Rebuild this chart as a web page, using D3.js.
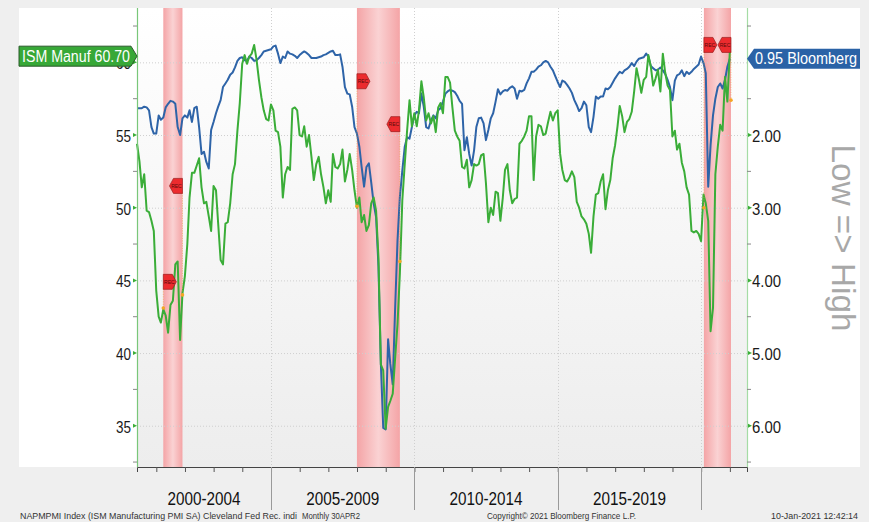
<!DOCTYPE html>
<html>
<head>
<meta charset="utf-8">
<script src="https://cdn.jsdelivr.net/npm/d3@7"></script>
<style>
  body { margin: 0; background: #efefef; }
  svg { display: block; font-family: "Liberation Sans", Arial, sans-serif; }
</style>
</head>
<body>
<svg id="chart" width="869" height="522"></svg>
<script>
// ISM Manufacturing PMI, monthly, Apr 2000 .. Dec 2020 (left axis)
const ismManuf = [
  54.4, 53.2, 51.4, 52.3, 49.8, 49.7, 49.1, 48.4, 44.3, 42.5, 42.1, 43.0,
  42.6, 41.4, 43.3, 43.6, 46.1, 46.3, 40.9, 44.1, 45.3, 47.5, 50.7, 52.4,
  52.4, 52.9, 53.4, 51.4, 50.3, 50.4, 49.4, 48.4, 51.5, 51.2, 48.9, 46.4,
  46.1, 48.9, 49.0, 50.3, 52.3, 53.0, 55.3, 57.2, 59.9, 60.5, 59.9, 60.4,
  60.6, 61.2, 60.2, 58.8, 57.6, 56.7, 56.1, 56.0, 57.1, 56.7, 55.3, 55.2,
  54.2, 50.7, 52.3, 52.8, 52.6, 56.8, 56.9, 56.7, 55.0, 54.9, 55.6, 54.2,
  55.0, 53.5, 51.9, 53.0, 53.5, 52.3, 51.4, 50.3, 51.2, 50.4, 53.7, 52.8,
  52.7, 53.0, 54.0, 51.8, 52.6, 53.7, 52.6, 51.2, 50.0, 50.7, 49.0, 49.5,
  48.4, 48.8, 50.3, 50.7, 49.8, 46.6, 39.2, 38.8, 34.8, 36.3, 36.7, 37.2,
  39.6, 42.0, 45.5, 50.5, 53.0, 55.3, 57.4, 55.6, 56.5, 55.6, 56.7, 58.7,
  57.6, 56.0, 56.5, 55.8, 56.3, 55.2, 56.9, 57.2, 56.5, 59.0, 59.0, 58.6,
  56.9, 55.3, 54.9, 54.6, 52.8, 52.7, 53.3, 51.4, 51.9, 53.0, 52.9, 53.0,
  53.6, 53.7, 51.7, 49.0, 50.0, 49.5, 51.1, 51.0, 49.1, 50.7, 52.6, 53.0,
  51.2, 50.3, 50.6, 50.7, 54.4, 54.6, 54.9, 55.3, 56.3, 56.3, 51.9, 54.9,
  55.7, 55.6, 55.0, 55.1, 55.9, 56.6, 56.0, 56.5, 56.7, 53.7, 52.6, 51.9,
  51.8, 52.1, 52.5, 52.1, 50.4, 50.0, 49.4, 49.2, 48.9, 48.2, 46.9, 49.4,
  50.9, 51.0, 51.8, 52.3, 49.9, 51.2, 51.9, 53.4, 54.3, 55.6, 57.0, 56.3,
  55.2, 55.9, 56.1, 56.6, 58.0, 59.6, 58.8, 57.9, 58.8, 59.0, 60.5, 59.7,
  58.4, 58.9, 59.5, 58.0, 60.6, 59.3, 58.4, 58.1, 54.9, 55.3, 54.0, 54.4,
  53.1, 52.5, 51.4, 50.9, 48.4, 48.3, 48.4, 48.2, 47.7, 50.9, 50.3, 49.1,
  41.5, 43.1, 52.3, 54.2, 55.7, 55.3, 59.0, 57.3, 60.7
];

// Cleveland Fed recession indicator (Bloomberg), same months (right axis, inverted)
const clevelandRec = [
  1.63, 1.63, 1.63, 1.61, 1.62, 1.66, 1.89, 1.98, 1.98, 1.73, 1.79, 1.76,
  1.62, 1.57, 1.53, 1.54, 1.57, 1.89, 2.00, 1.77, 1.73, 1.76, 1.66, 1.82,
  1.63, 1.61, 1.89, 2.26, 2.23, 2.37, 2.46, 1.93, 1.82, 1.70, 1.61, 1.52,
  1.34, 1.29, 1.24, 1.17, 1.14, 1.07, 0.98, 0.94, 0.93, 0.97, 0.98, 0.92,
  0.94, 0.98, 0.97, 0.94, 0.90, 0.85, 0.84, 0.83, 0.82, 0.78, 0.77, 0.88,
  1.01, 0.92, 0.94, 0.85, 0.88, 0.89, 0.91, 0.94, 0.90, 0.87, 0.85, 0.87,
  0.90, 0.94, 0.94, 0.94, 0.93, 0.92, 0.90, 0.89, 0.87, 0.85, 0.84, 0.90,
  0.90, 0.89, 1.06, 1.34, 1.43, 1.44, 1.61, 1.89, 1.98, 2.16, 2.44, 2.71,
  2.44, 2.39, 2.65, 2.94, 3.13, 3.80, 5.15, 6.03, 6.05, 4.81, 5.15, 5.43,
  4.40, 3.45, 2.85, 2.49, 2.16, 2.03, 2.05, 1.89, 1.73, 1.68, 1.70, 1.43,
  1.61, 1.89, 1.91, 1.80, 1.73, 1.77, 1.66, 1.63, 1.54, 1.43, 1.40, 1.38,
  1.39, 1.41, 1.46, 1.53, 1.57, 2.21, 2.03, 2.26, 2.42, 2.21, 1.89, 1.77,
  1.76, 1.84, 2.07, 1.93, 1.77, 1.70, 1.54, 1.37, 1.44, 1.40, 1.38, 1.39,
  1.35, 1.33, 1.36, 1.50, 1.39, 1.40, 1.38, 1.29, 1.22, 1.13, 1.13, 1.10,
  1.06, 1.04, 1.00, 0.98, 1.00, 1.06, 1.11, 1.19, 1.27, 1.34, 1.25, 1.27,
  1.31, 1.36, 1.42, 1.52, 1.59, 1.67, 1.63, 1.54, 1.59, 1.89, 1.96, 1.75,
  1.47, 1.50, 1.47, 1.47, 1.36, 1.37, 1.34, 1.28, 1.22, 1.17, 1.13, 1.15,
  1.11, 1.09, 1.06, 1.01, 1.05, 0.99, 0.95, 0.94, 0.93, 0.88, 0.92, 1.05,
  1.08, 1.11, 1.10, 1.07, 1.11, 1.16, 1.24, 1.34, 1.52, 1.25, 1.18, 1.16,
  1.11, 1.19, 1.13, 1.16, 1.13, 1.09, 1.06, 1.03, 0.92, 1.01, 1.15, 2.71,
  2.14, 1.73, 1.50, 1.34, 1.29, 1.36, 1.24, 1.06, 0.95
];

// first month of both series (month index 3 = April)
const firstYear = 2000, firstMonth = 3;

// shaded recessions [start, end]
const recessions = [
  ["2001-03-31", "2001-11-30"],
  ["2007-12-31", "2009-06-30"],
  ["2020-02-05", "2021-01-15"]
];

// "REC" event tags: date, level of the tag, level of the dot on the ISM line
const recTags = [
  { date: "2001-03-31", tag: 44.9, dot: 43.1, dir: "right" },
  { date: "2001-11-30", tag: 51.5, dot: 44.0, dir: "left" },
  { date: "2007-12-31", tag: 58.7, dot: 50.1, dir: "right" },
  { date: "2009-06-30", tag: 55.75, dot: 46.3, dir: "left" },
  { date: "2020-02-05", tag: 61.2, dot: 50.0, dir: "right" },
  { date: "2021-01-15", tag: 61.2, dot: 57.4, dir: "left" }
];

const leftTicks = [35, 40, 45, 50, 55, 60];
const leftMinor = [32.5, 37.5, 42.5, 47.5, 52.5, 57.5, 62.5];
const rightTicks = [2, 3, 4, 5, 6];
const rightMinor = [0.5, 1.5, 2.5, 3.5, 4.5, 5.5, 6.5];
const periods = [
  { label: "2000-2004", from: "2000-01-01", to: "2005-01-01" },
  { label: "2005-2009", from: "2005-01-01", to: "2010-01-01" },
  { label: "2010-2014", from: "2010-01-01", to: "2015-01-01" },
  { label: "2015-2019", from: "2015-01-01", to: "2020-01-01" }
];
const separatorYears = ["2005-01-01", "2010-01-01", "2015-01-01", "2020-01-01"];

const ismLabel = "ISM Manuf 60.70";
const recLabel = "0.95 Bloomberg";
const axisTitle = "Low => High";
const footerLeft = "NAPMPMI Index (ISM Manufacturing PMI SA) Cleveland Fed Rec. indi";
const footerMid = "Monthly 30APR2";
const footerCopy = "Copyright\u00a9 2021 Bloomberg Finance L.P.";
const footerDate = "10-Jan-2021 12:42:14";

const parse = d3.timeParse("%Y-%m-%d");
const svg = d3.select("#chart");

const plot = { left: 137, right: 747, top: 8, bottom: 467 };

const x = d3.scaleTime()
  .domain([parse("2000-04-30"), parse("2021-08-07")])
  .range([plot.left, plot.right]);
const yLeft = d3.scaleLinear().domain([63.74, 32.16]).range([plot.top, plot.bottom]);
const yRight = d3.scaleLinear().domain([0.252, 6.568]).range([plot.top, plot.bottom]);

// month-end dates for the series
const dates = ismManuf.map((_, i) => new Date(firstYear, firstMonth + 1 + i, 0));

// gradients
const defs = svg.append("defs");
const bg = defs.append("linearGradient").attr("id", "plotBg")
  .attr("x1", 0).attr("y1", 0).attr("x2", 0).attr("y2", 1);
bg.append("stop").attr("offset", 0).attr("stop-color", "#ffffff");
bg.append("stop").attr("offset", 1).attr("stop-color", "#ededed");
const rg = defs.append("linearGradient").attr("id", "recBg")
  .attr("x1", 0).attr("y1", 0).attr("x2", 1).attr("y2", 0);
rg.append("stop").attr("offset", 0).attr("stop-color", "#f4a4a6");
rg.append("stop").attr("offset", 0.5).attr("stop-color", "#fad2d3");
rg.append("stop").attr("offset", 1).attr("stop-color", "#f4a4a6");

// white panel and plot background
svg.append("rect").attr("x", 19).attr("y", 8).attr("width", 841).attr("height", 459).attr("fill", "#fff");
svg.append("rect")
  .attr("x", plot.left).attr("y", plot.top)
  .attr("width", plot.right - plot.left).attr("height", plot.bottom - plot.top)
  .attr("fill", "url(#plotBg)");

// recession bands
svg.append("g").selectAll("rect")
  .data(recessions)
  .join("rect")
  .attr("x", d => x(parse(d[0])))
  .attr("width", d => x(parse(d[1])) - x(parse(d[0])))
  .attr("y", plot.top)
  .attr("height", plot.bottom - plot.top)
  .attr("fill", "url(#recBg)");

// grid
const grid = svg.append("g")
  .attr("stroke", "#cfcfcf")
  .attr("stroke-dasharray", "1,2");
grid.selectAll("line.h")
  .data(leftTicks)
  .join("line")
  .attr("class", "h")
  .attr("x1", plot.left).attr("x2", plot.right)
  .attr("y1", d => yLeft(d) + 0.5).attr("y2", d => yLeft(d) + 0.5);
grid.selectAll("line.v")
  .data(separatorYears)
  .join("line")
  .attr("class", "v")
  .attr("x1", d => Math.round(x(parse(d))) + 0.5).attr("x2", d => Math.round(x(parse(d))) + 0.5)
  .attr("y1", plot.top).attr("y2", plot.bottom);

// lines
const recLine = d3.line().x((d, i) => x(dates[i])).y(d => yRight(d));
const ismLine = d3.line().x((d, i) => x(dates[i])).y(d => yLeft(d));

svg.append("path")
  .datum(clevelandRec)
  .attr("fill", "none")
  .attr("stroke", "#2e64a8")
  .attr("stroke-width", 2)
  .attr("stroke-linejoin", "round")
  .attr("d", recLine);

svg.append("path")
  .datum(ismManuf)
  .attr("fill", "none")
  .attr("stroke", "#3aad38")
  .attr("stroke-width", 2)
  .attr("stroke-linejoin", "round")
  .attr("d", ismLine);

// REC event tags
const tags = svg.append("g");
recTags.forEach(t => {
  const tx = x(parse(t.date));
  const ty = yLeft(t.tag);
  const dy = yLeft(t.dot);
  tags.append("line")
    .attr("x1", tx).attr("x2", tx)
    .attr("y1", ty + 7).attr("y2", dy)
    .attr("stroke", "#f0a030").attr("stroke-width", 0.8)
    .attr("stroke-dasharray", "1,1.5").attr("opacity", 0.7);
  tags.append("circle")
    .attr("cx", tx).attr("cy", dy).attr("r", 1.8)
    .attr("fill", "#f5a623");
  const pts = t.dir === "right"
    ? [[tx, ty - 7.5], [tx + 9, ty - 7.5], [tx + 13, ty], [tx + 9, ty + 7.5], [tx, ty + 7.5]]
    : [[tx, ty - 7.5], [tx - 9, ty - 7.5], [tx - 13, ty], [tx - 9, ty + 7.5], [tx, ty + 7.5]];
  tags.append("path")
    .attr("d", d3.line()(pts) + "Z")
    .attr("fill", "#ec2b2e")
    .attr("stroke", "#9a1c1c")
    .attr("stroke-width", 0.7);
  tags.append("text")
    .attr("x", t.dir === "right" ? tx + 6 : tx - 6)
    .attr("y", ty + 1.8)
    .attr("text-anchor", "middle")
    .attr("font-size", 5)
    .attr("fill", "#5a0a0a")
    .text("REC");
});

// left axis
const leftAxis = svg.append("g")
  .attr("transform", `translate(${plot.left},0)`)
  .call(d3.axisLeft(yLeft).tickValues(leftTicks).tickSize(0).tickPadding(6));
leftAxis.select(".domain").remove();
leftAxis.selectAll("text")
  .attr("font-size", 16)
  .attr("font-family", "Liberation Sans, Arial, sans-serif")
  .attr("fill", "#1a1a1a")
  .attr("dy", "0.4em")
  .attr("textLength", 15)
  .attr("lengthAdjust", "spacingAndGlyphs");
svg.append("line")
  .attr("x1", plot.left + 0.5).attr("x2", plot.left + 0.5)
  .attr("y1", plot.top).attr("y2", plot.bottom)
  .attr("stroke", "#79c779").attr("stroke-width", 1.2);
svg.append("g").selectAll("line")
  .data(leftMinor)
  .join("line")
  .attr("x1", plot.left - 4).attr("x2", plot.left)
  .attr("y1", d => yLeft(d)).attr("y2", d => yLeft(d))
  .attr("stroke", "#888");
svg.append("g").selectAll("path")
  .data(leftTicks)
  .join("path")
  .attr("d", d => `M${plot.left - 4},${yLeft(d) - 2}L${plot.left},${yLeft(d)}L${plot.left - 4},${yLeft(d) + 2}Z`)
  .attr("fill", "#3aad38");

// right axis
const rightAxis = svg.append("g")
  .attr("transform", `translate(${plot.right},0)`)
  .call(d3.axisRight(yRight).tickValues(rightTicks).tickSize(0).tickPadding(5).tickFormat(d3.format(".2f")));
rightAxis.select(".domain").remove();
rightAxis.selectAll("text")
  .attr("font-size", 16)
  .attr("font-family", "Liberation Sans, Arial, sans-serif")
  .attr("fill", "#1a1a1a")
  .attr("dy", "0.4em")
  .attr("textLength", 29)
  .attr("lengthAdjust", "spacingAndGlyphs");
svg.append("line")
  .attr("x1", plot.right + 0.5).attr("x2", plot.right + 0.5)
  .attr("y1", plot.top).attr("y2", plot.bottom)
  .attr("stroke", "#a5dca5").attr("stroke-width", 1.2);
svg.append("g").selectAll("line")
  .data(rightMinor)
  .join("line")
  .attr("x1", plot.right).attr("x2", plot.right + 4)
  .attr("y1", d => yRight(d)).attr("y2", d => yRight(d))
  .attr("stroke", "#888");
svg.append("g").selectAll("path")
  .data(rightTicks)
  .join("path")
  .attr("d", d => `M${plot.right + 1},${yRight(d) - 2}L${plot.right + 5},${yRight(d)}L${plot.right + 1},${yRight(d) + 2}Z`)
  .attr("fill", "#3aad38");

// right axis title
svg.append("text")
  .attr("transform", "translate(832,238) rotate(90)")
  .attr("text-anchor", "middle")
  .attr("font-size", 34)
  .attr("fill", "#a8a8a8")
  .attr("textLength", 187)
  .attr("lengthAdjust", "spacingAndGlyphs")
  .text(axisTitle);

// bottom axis
const bottomAxis = svg.append("g")
  .attr("transform", `translate(0,${plot.bottom})`)
  .call(d3.axisBottom(x).ticks(d3.timeYear.every(1)).tickSize(5).tickFormat(""));
bottomAxis.select(".domain").attr("stroke", "#444");
bottomAxis.selectAll(".tick line").attr("stroke", "#555");

svg.append("g").selectAll("line")
  .data(separatorYears)
  .join("line")
  .attr("x1", d => Math.round(x(parse(d))) + 0.5).attr("x2", d => Math.round(x(parse(d))) + 0.5)
  .attr("y1", plot.bottom).attr("y2", 510)
  .attr("stroke", "#9a9a9a");

svg.append("g").selectAll("text")
  .data(periods)
  .join("text")
  .attr("x", d => (Math.max(plot.left, x(parse(d.from))) + Math.min(plot.right, x(parse(d.to)))) / 2)
  .attr("y", 505)
  .attr("text-anchor", "middle")
  .attr("font-size", 19)
  .attr("fill", "#111")
  .attr("textLength", 73)
  .attr("lengthAdjust", "spacingAndGlyphs")
  .text(d => d.label);

// last value labels
const ismLast = ismManuf[ismManuf.length - 1];
const ly = yLeft(ismLast) + 4;
svg.append("path")
  .attr("d", `M19,${ly - 10}L131,${ly - 10}L137,${ly}L131,${ly + 10}L19,${ly + 10}Z`)
  .attr("fill", "#37a837")
  .attr("stroke", "#2a5a2a")
  .attr("stroke-width", 1);
svg.append("text")
  .attr("x", 22).attr("y", ly + 5.5)
  .attr("font-size", 16)
  .attr("fill", "#fff")
  .attr("textLength", 108)
  .attr("lengthAdjust", "spacingAndGlyphs")
  .text(ismLabel);

const recLast = clevelandRec[clevelandRec.length - 1];
const ry = yRight(recLast);
svg.append("path")
  .attr("d", `M${plot.right},${ry}L${plot.right + 7},${ry - 10}L860,${ry - 10}L860,${ry + 10}L${plot.right + 7},${ry + 10}Z`)
  .attr("fill", "#2a62a6");
svg.append("text")
  .attr("x", 755).attr("y", ry + 5.5)
  .attr("font-size", 16)
  .attr("fill", "#fff")
  .attr("textLength", 102)
  .attr("lengthAdjust", "spacingAndGlyphs")
  .text(recLabel);

// footer
const footer = svg.append("g").attr("font-size", 8.5).attr("fill", "#333");
footer.append("text").attr("x", 20).attr("y", 519)
  .attr("textLength", 277).attr("lengthAdjust", "spacingAndGlyphs").text(footerLeft);
footer.append("text").attr("x", 302).attr("y", 519)
  .attr("textLength", 58).attr("lengthAdjust", "spacingAndGlyphs").text(footerMid);
footer.append("text").attr("x", 487).attr("y", 519)
  .attr("textLength", 149).attr("lengthAdjust", "spacingAndGlyphs").text(footerCopy);
footer.append("text").attr("x", 771).attr("y", 519)
  .attr("textLength", 87).attr("lengthAdjust", "spacingAndGlyphs").text(footerDate);
</script>
</body>
</html>
